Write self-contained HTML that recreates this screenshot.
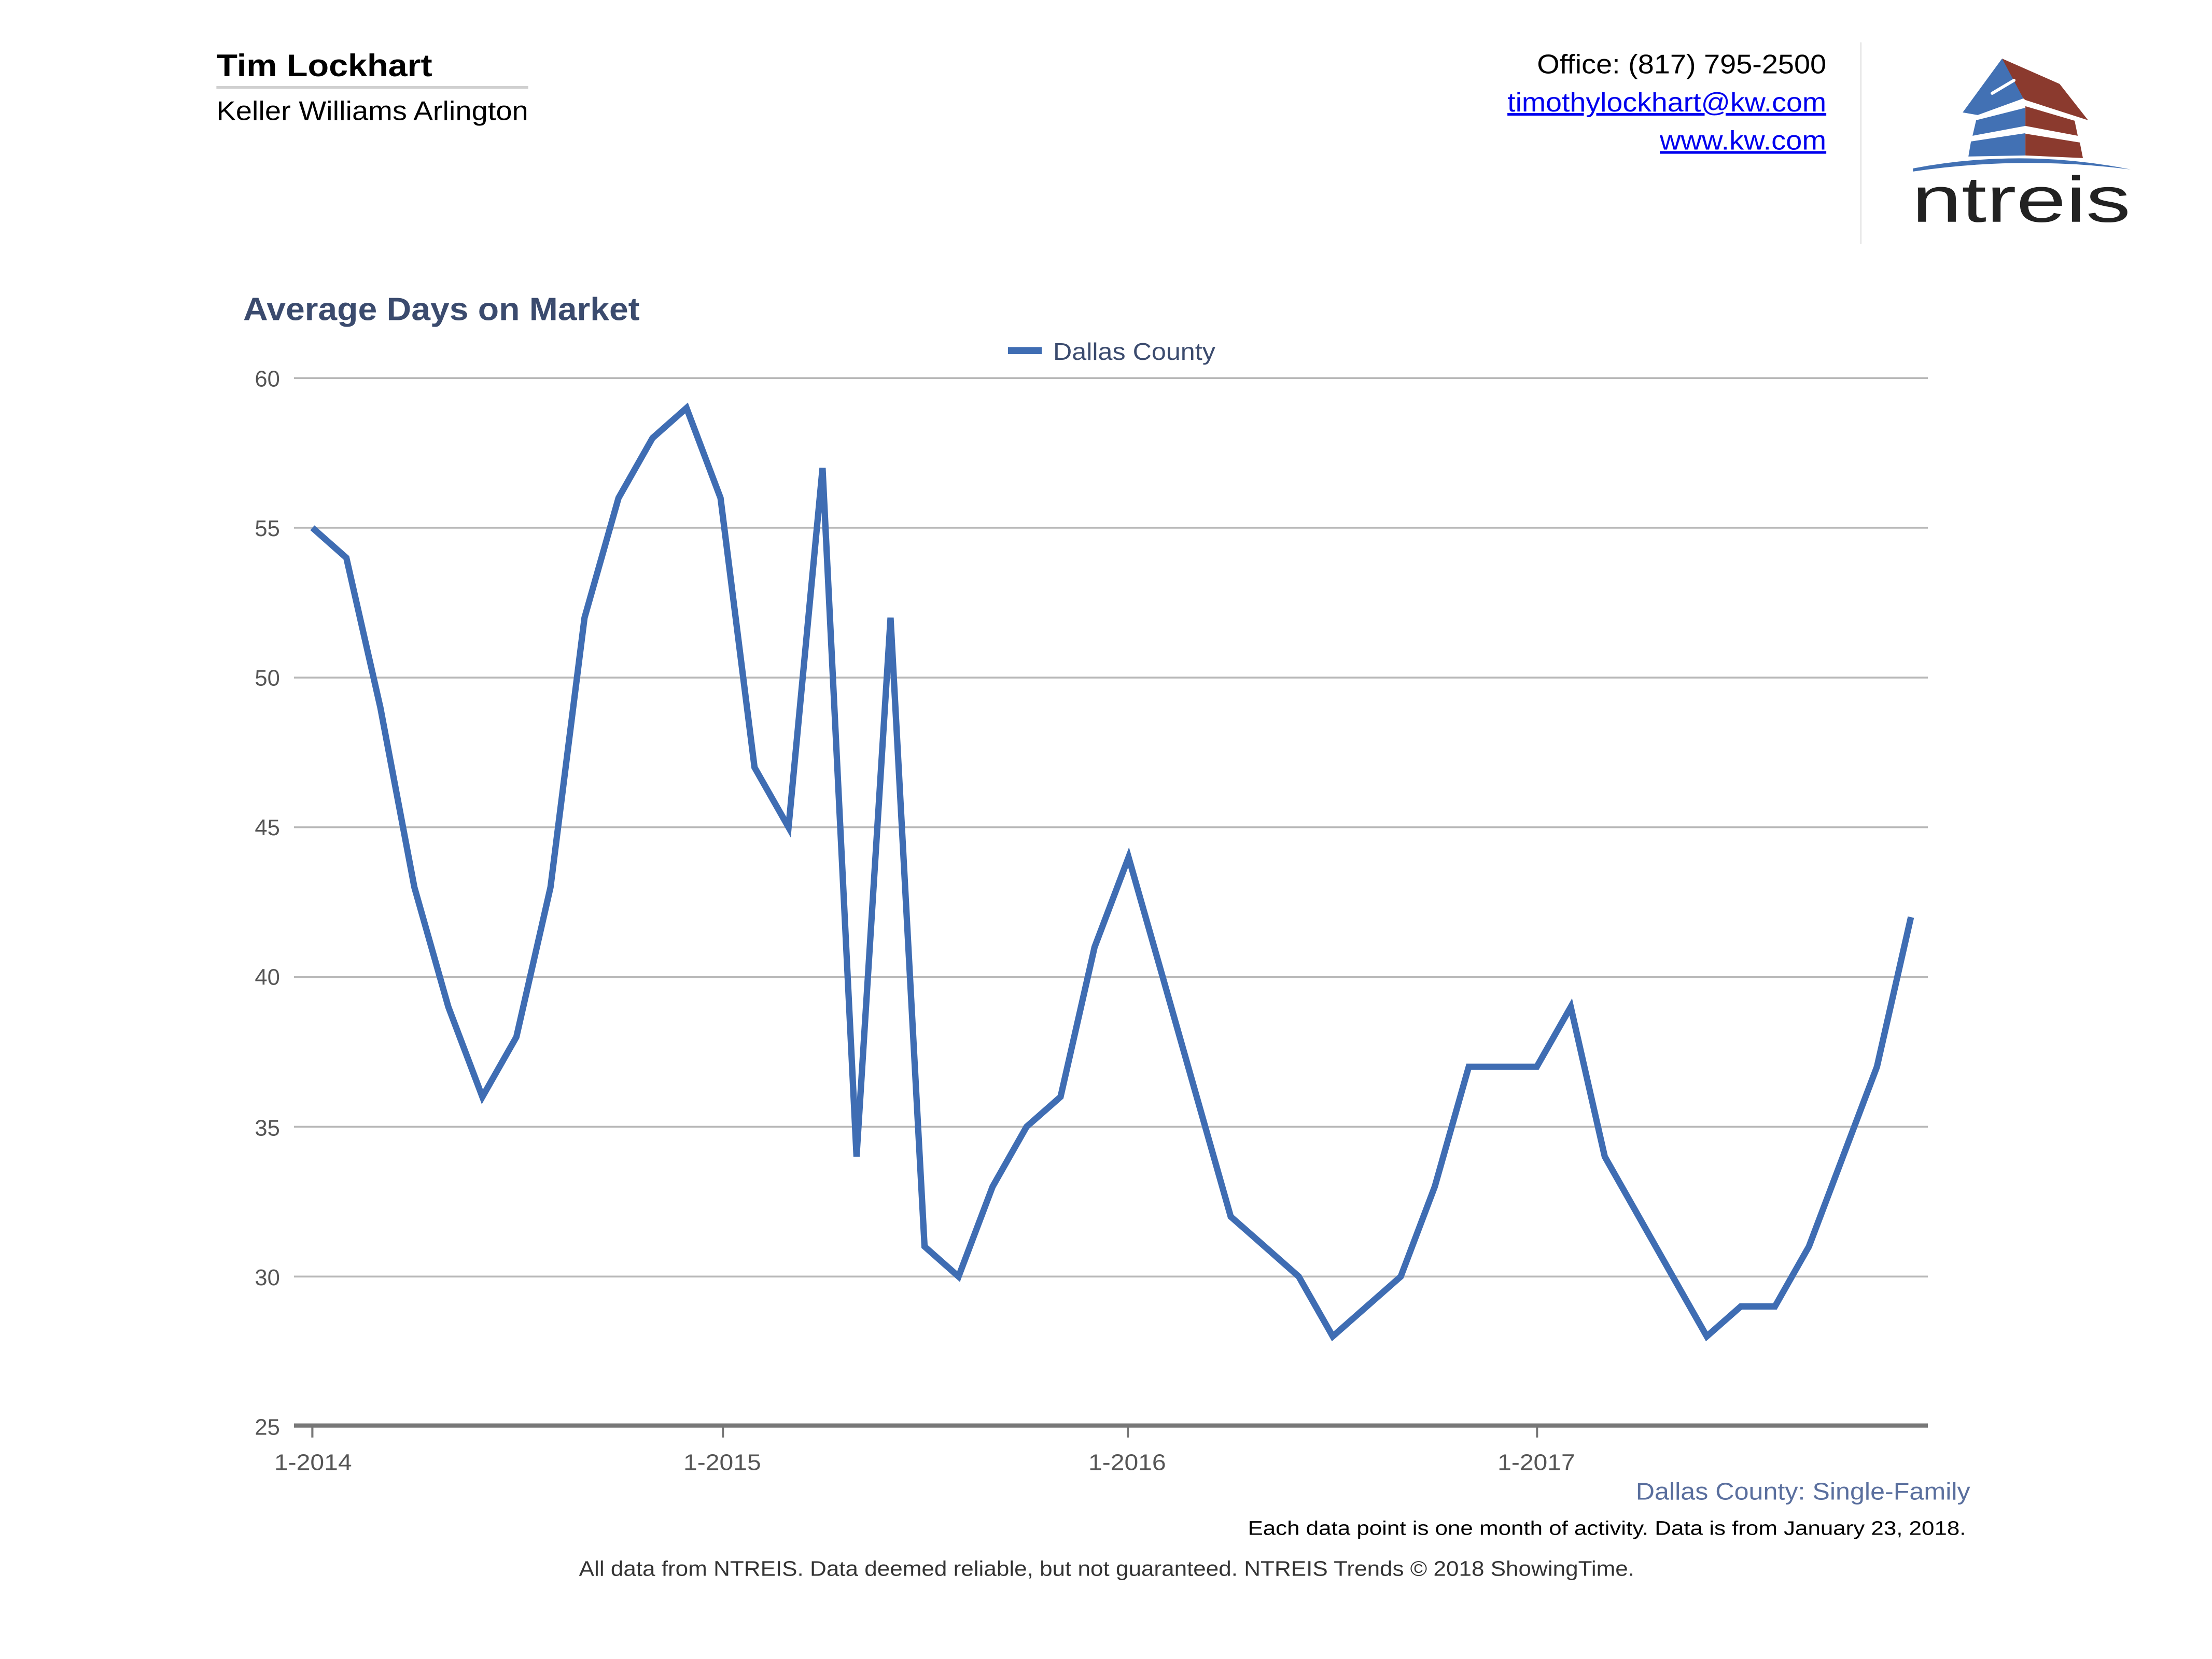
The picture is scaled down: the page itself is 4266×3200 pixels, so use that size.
<!DOCTYPE html>
<html><head><meta charset="utf-8"><style>html,body{margin:0;padding:0;background:#fff}svg{display:block}</style></head>
<body>
<svg xmlns="http://www.w3.org/2000/svg" width="4266" height="3200" viewBox="0 0 1567 1176" font-family="Liberation Sans, Arial, sans-serif">
<rect width="1567" height="1176" fill="#fff"/>
<text x="153" y="54" font-size="22" font-weight="bold" fill="#000" textLength="153" lengthAdjust="spacingAndGlyphs">Tim Lockhart</text>
<rect x="153" y="61" width="221" height="2" fill="#d0d0d0"/>
<text x="153" y="85" font-size="19" fill="#000" textLength="221" lengthAdjust="spacingAndGlyphs">Keller Williams Arlington</text>
<text x="1089" y="52" font-size="19" fill="#000" textLength="205" lengthAdjust="spacingAndGlyphs">Office: (817) 795-2500</text>
<text x="1068" y="79" font-size="19" fill="#0000ee" text-decoration="underline" textLength="226" lengthAdjust="spacingAndGlyphs">timothylockhart@kw.com</text>
<text x="1176" y="106" font-size="19" fill="#0000ee" text-decoration="underline" textLength="118" lengthAdjust="spacingAndGlyphs">www.kw.com</text>
<rect x="1318" y="30" width="1" height="143" fill="#e4e4e4"/>
<g transform="scale(0.36732)">
<polygon points="3862,113 3885,153 3903,190 3815,222 3786,217" fill="#4271b4"/>
<polygon points="3862,113 3973,162 4028,232 3907,193 3903,190" fill="#8b3a2e"/>
<polygon points="3812,232 3907,208 3907,243 3805,262" fill="#4271b4"/>
<polygon points="3907,205 4002,233 4008,262 3907,243" fill="#8b3a2e"/>
<polygon points="3802,273 3907,257 3907,300 3797,302" fill="#4271b4"/>
<polygon points="3907,258 4012,275 4018,305 3907,300" fill="#8b3a2e"/>
<path d="M3690,325 Q3900,285 4110,327 Q3900,300 3690,331 Z" fill="#4271b4"/>
<path d="M3843,180 L3885,155" stroke="#fff" stroke-width="6" stroke-linecap="round"/>
<text x="3688" y="428" font-size="125" fill="#222" textLength="422" lengthAdjust="spacingAndGlyphs">ntreis</text>
</g>
<text x="172" y="227" font-size="23" font-weight="bold" fill="#3b4b6e" textLength="281" lengthAdjust="spacingAndGlyphs">Average Days on Market</text>
<rect x="714" y="246" width="24" height="5" fill="#3f6db3"/>
<text x="746" y="255" font-size="17" fill="#3b4b6e" textLength="115" lengthAdjust="spacingAndGlyphs">Dallas County</text>
<g stroke="#b8b8b8" stroke-width="1.3">
<line x1="208" y1="268" x2="1366" y2="268"/>
<line x1="208" y1="374.1" x2="1366" y2="374.1"/>
<line x1="208" y1="480.3" x2="1366" y2="480.3"/>
<line x1="208" y1="586.4" x2="1366" y2="586.4"/>
<line x1="208" y1="692.6" x2="1366" y2="692.6"/>
<line x1="208" y1="798.7" x2="1366" y2="798.7"/>
<line x1="208" y1="904.9" x2="1366" y2="904.9"/>
</g>
<g font-size="16" fill="#555" text-anchor="end">
<text x="198" y="274">60</text><text x="198" y="380">55</text><text x="198" y="486">50</text>
<text x="198" y="592">45</text><text x="198" y="698">40</text><text x="198" y="805">35</text>
<text x="198" y="911">30</text><text x="198" y="1017">25</text>
</g>
<rect x="208" y="1009" width="1158" height="3" fill="#777"/>
<g stroke="#777" stroke-width="1.5">
<line x1="221" y1="1011" x2="221" y2="1019"/><line x1="512" y1="1011" x2="512" y2="1019"/>
<line x1="799" y1="1011" x2="799" y2="1019"/><line x1="1089" y1="1011" x2="1089" y2="1019"/>
</g>
<g font-size="16" fill="#555">
<text x="194" y="1042" textLength="55" lengthAdjust="spacingAndGlyphs">1-2014</text>
<text x="484" y="1042" textLength="55" lengthAdjust="spacingAndGlyphs">1-2015</text>
<text x="771" y="1042" textLength="55" lengthAdjust="spacingAndGlyphs">1-2016</text>
<text x="1061" y="1042" textLength="55" lengthAdjust="spacingAndGlyphs">1-2017</text>
</g>
<polyline fill="none" stroke="#3f6db3" stroke-width="4.5" stroke-linejoin="miter" stroke-miterlimit="10" points="
221,374.1 245.1,395.4 269.2,501.5 293.3,628.9 317.4,713.8 341.5,777.5 365.6,735.1 389.8,628.9 413.9,437.9 438,353 462.1,310.5 486.2,289.2
510.3,353 534.4,544 558.5,586.4 582.6,331.7 606.7,819.9 630.8,437.9 654.9,883.6 679,904.9 703.1,841.2 727.2,798.7 751.3,777.5 775.4,671.4
799.5,607.7 823.7,692.6 847.8,777.5 871.9,862.4 896,883.6 920.1,904.9 944.2,947.3 968.3,926.1 992.4,904.9 1016.5,841.2 1040.6,756.2 1064.7,756.2
1088.8,756.2 1112.9,713.8 1137,819.9 1161.1,862.4 1185.2,904.9 1209.3,947.3 1233.4,926.1 1257.6,926.1 1281.7,883.6 1305.8,819.9 1329.9,756.2 1354,650.1"/>
<text x="1159" y="1063" font-size="17" fill="#5a6f9e" textLength="237" lengthAdjust="spacingAndGlyphs">Dallas County: Single-Family</text>
<text x="884" y="1088" font-size="14" fill="#000" textLength="509" lengthAdjust="spacingAndGlyphs">Each data point is one month of activity. Data is from January 23, 2018.</text>
<text x="410" y="1117" font-size="15" fill="#333" textLength="748" lengthAdjust="spacingAndGlyphs">All data from NTREIS. Data deemed reliable, but not guaranteed. NTREIS Trends © 2018 ShowingTime.</text>
</svg>
</body></html>
